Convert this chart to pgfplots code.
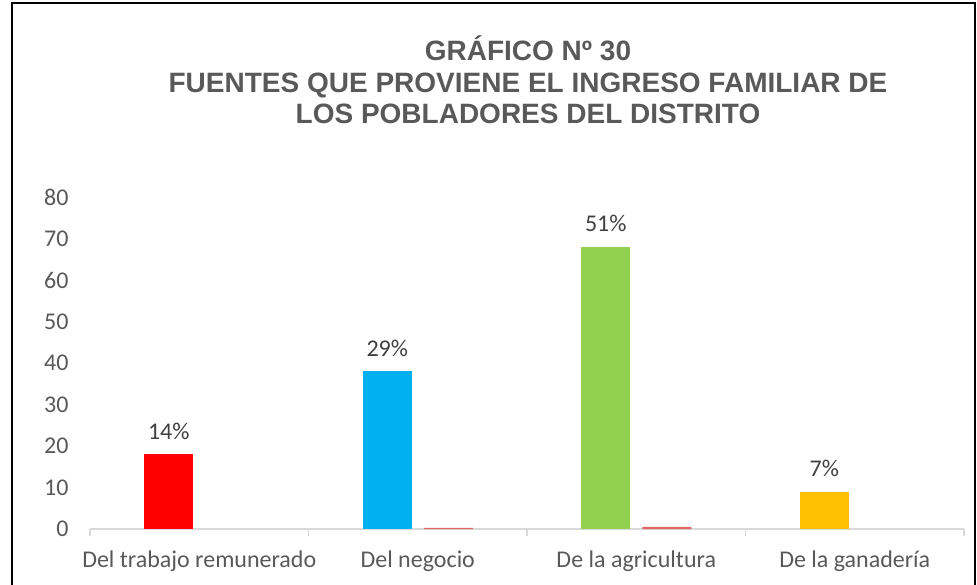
\documentclass[border=0pt]{standalone}
\usepackage{fontspec}
\setmainfont{Carlito}
\newfontfamily\arialfont{Liberation Sans}
\usepackage{pgfplots}
\pgfplotsset{compat=1.18}
\definecolor{cred}{HTML}{FF0000}
\definecolor{cblue}{HTML}{00B0F0}
\definecolor{cgreen}{HTML}{92D050}
\definecolor{cyellow}{HTML}{FFC000}
\definecolor{csmall}{HTML}{E06666}
\definecolor{txtgray}{HTML}{595959}
\definecolor{lblgray}{HTML}{404040}
\definecolor{axgray}{HTML}{D9D9D9}
\begin{document}
\begin{tikzpicture}[x=1pt,y=1pt]
\useasboundingbox (0,-585) rectangle (977,0);
\begin{axis}[
  at={(90pt,-529pt)}, anchor=south west,
  scale only axis, width=874pt, height=332pt,
  xmin=-0.5, xmax=3.5, ymin=0, ymax=80,
  ybar, bar width=49pt,
  axis x line=bottom, axis y line=left,
  axis line style={-, draw=axgray, line width=1.2pt},
  y axis line style={draw=none},
  ytick={0,10,...,80},
  xtick={0,1,2,3},
  xticklabels={Del trabajo remunerado, Del negocio, De la agricultura, De la ganadería},
  minor xtick={-0.5,0.5,1.5,2.5,3.5},
  tick align=outside,
  major tick length=0pt, minor tick length=7pt,
  ytick style={draw=none},
  x tick style={draw=axgray, line width=1.2pt},
  xticklabel style={font=\fontsize{24}{28}\selectfont, text=txtgray, yshift=-18pt},
  yticklabel style={font=\fontsize{24}{28}\selectfont, text=txtgray, xshift=-18pt},
  /pgf/number format/assume math mode=true,
  every node near coord/.append style={font=\fontsize{24}{28}\selectfont, text=lblgray, anchor=center, yshift=23pt},
  clip=false,
]
\addplot[fill=cred, draw=none, bar shift=-30.5pt, nodes near coords={14\%}] coordinates {(0,18)};
\addplot[fill=cblue, draw=none, bar shift=-30.5pt, nodes near coords={29\%}] coordinates {(1,38)};
\addplot[fill=cgreen, draw=none, bar shift=-30.5pt, nodes near coords={51\%}] coordinates {(2,68)};
\addplot[fill=cyellow, draw=none, bar shift=-30.5pt, nodes near coords={7\%}] coordinates {(3,9)};
\addplot[fill=csmall, draw=none, bar shift=30.5pt] coordinates {(1,0.29) (2,0.51)};
\end{axis}
\node[font=\arialfont\bfseries\fontsize{28}{31.5}\selectfont, text=txtgray, align=center] at (528,-80) {GRÁFICO Nº 30\\FUENTES QUE PROVIENE EL INGRESO FAMILIAR DE\\LOS POBLADORES DEL DISTRITO};
\draw[line width=2pt] (12,-590) -- (12,-3) -- (975,-3) -- (975,-590);
\end{tikzpicture}
\end{document}
